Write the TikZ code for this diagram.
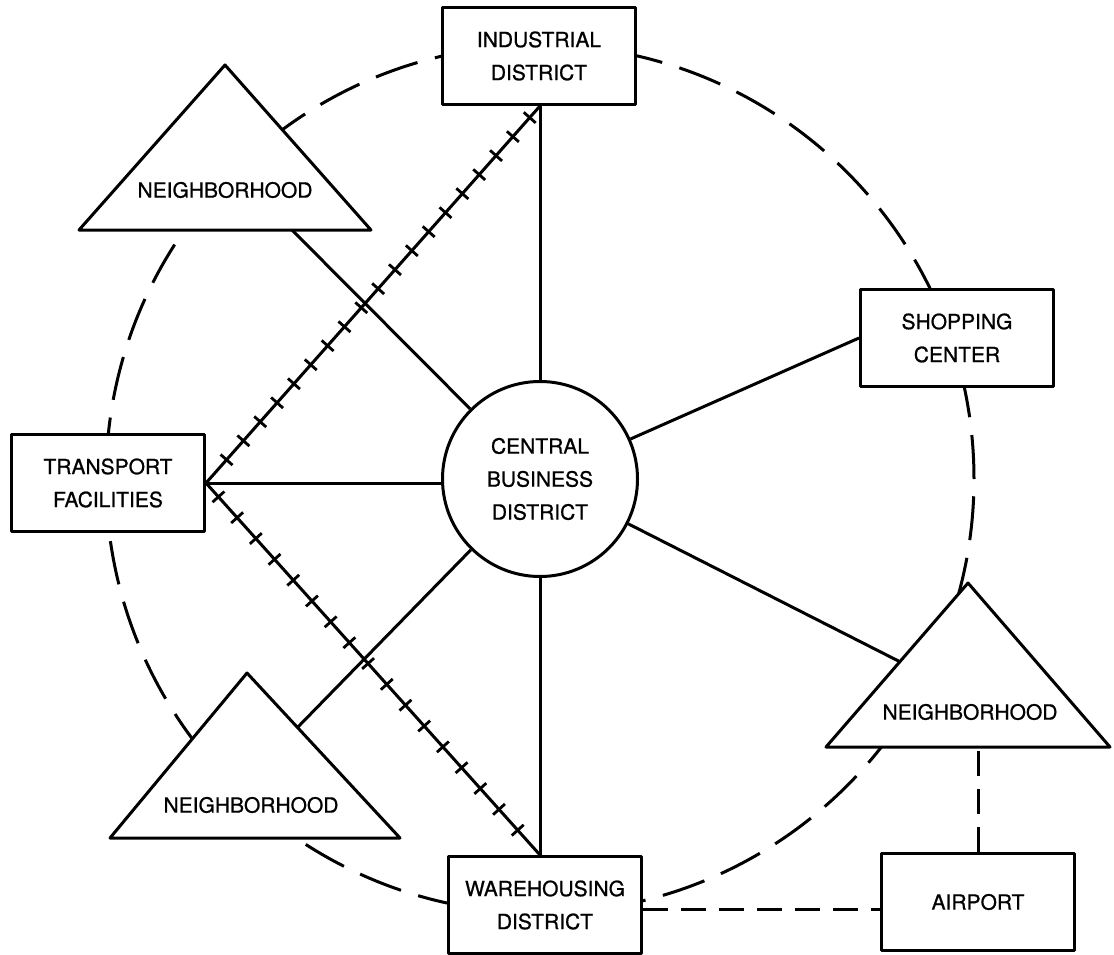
\documentclass[tikz,border=0pt]{standalone}
\usepackage{fontspec}
\setmainfont{TeX Gyre Heros}[FakeBold=0.8]
\usetikzlibrary{decorations.markings,calc}
\newcommand\diaglabel{\fontsize{21}{33}\selectfont}
\begin{document}
\begin{tikzpicture}[x=1pt,y=-1pt,line width=3pt,line join=round,
  box/.style={draw,fill=white,rectangle,minimum width=193pt,minimum height=97pt,
    inner sep=0pt,align=center,font=\diaglabel},
  hubcircle/.style={draw,fill=white,circle,minimum size=195pt,inner sep=0pt,
    align=center,font=\diaglabel},
  area/.style={draw,fill=white},
  arealabel/.style={inner sep=0pt,font=\diaglabel},
  ring/.style={dash pattern=on 44pt off 18pt},
  airlink/.style={dash pattern=on 25pt off 13pt},
  tick/.style={line width=2.8pt}]

\useasboundingbox (0,0) rectangle (1114,955);

% dashed ring of outlying districts
\coordinate (hub) at (540,479);
\draw[ring] (hub) circle[radius=434pt];

% districts
\node[box] (ind)   at (539,56)  {INDUSTRIAL\\DISTRICT};
\node[box] (trans) at (108,483) {TRANSPORT\\FACILITIES};
\node[box] (wh)    at (545,905) {WAREHOUSING\\DISTRICT};
\node[box] (air)   at (978,902) {AIRPORT};
\node[box] (shop)  at (957,338) {SHOPPING\\CENTER};
\node[hubcircle] (cbd) at (hub) {CENTRAL\\BUSINESS\\DISTRICT};

% neighborhoods (triangles)
\coordinate (nwTop) at (225,65);  \coordinate (nwL) at (79,230);  \coordinate (nwR) at (371,230);
\coordinate (swTop) at (247,673); \coordinate (swL) at (110,838); \coordinate (swR) at (400,838);
\coordinate (seTop) at (968,583); \coordinate (seL) at (826,747); \coordinate (seR) at (1110,747);
\draw[area] (nwTop) -- (nwR) -- (nwL) -- cycle;
\draw[area] (swTop) -- (swR) -- (swL) -- cycle;
\draw[area] (seTop) -- (seR) -- (seL) -- cycle;
\node[arealabel] (nw) at (225,190) {NEIGHBORHOOD};
\node[arealabel] (sw) at (251,805) {NEIGHBORHOOD};
\node[arealabel] (se) at (970,712) {NEIGHBORHOOD};

% roads to the central business district
\coordinate (nwFoot) at (292,230);
\coordinate (swSide) at ($(swTop)!0.33!(swR)$);
\coordinate (seSide) at ($(seTop)!0.48!(seL)$);
\draw (nwFoot) -- (cbd);
\draw (swSide) -- (cbd);
\draw (seSide) -- (cbd);
\draw (shop.west) -- (cbd);
\draw (cbd.north) -- (cbd.north |- ind.south);
\draw (cbd.south) -- (cbd.south |- wh.north);
\draw (trans.east) -- (trans.east -| cbd.west);

% rail lines
\draw[postaction=decorate,decoration={markings,
  mark=between positions 31pt and -15pt step 25.4pt with {\draw[tick] (0pt,-8pt) -- (0pt,8pt);}}]
  (trans.east) -- (cbd.north |- ind.south);
\draw[postaction=decorate,decoration={markings,
  mark=between positions 18.6pt and -30pt step 28pt with {\draw[tick] (0pt,-8pt) -- (0pt,8pt);}}]
  (trans.east) -- (cbd.south |- wh.north);

% airport links
\coordinate (lowrow) at (0,909);
\draw[airlink] (wh.east |- lowrow) -- (air.west |- lowrow);
\draw[airlink] (air.north) -- (air.north |- seL);
\end{tikzpicture}
\end{document}
